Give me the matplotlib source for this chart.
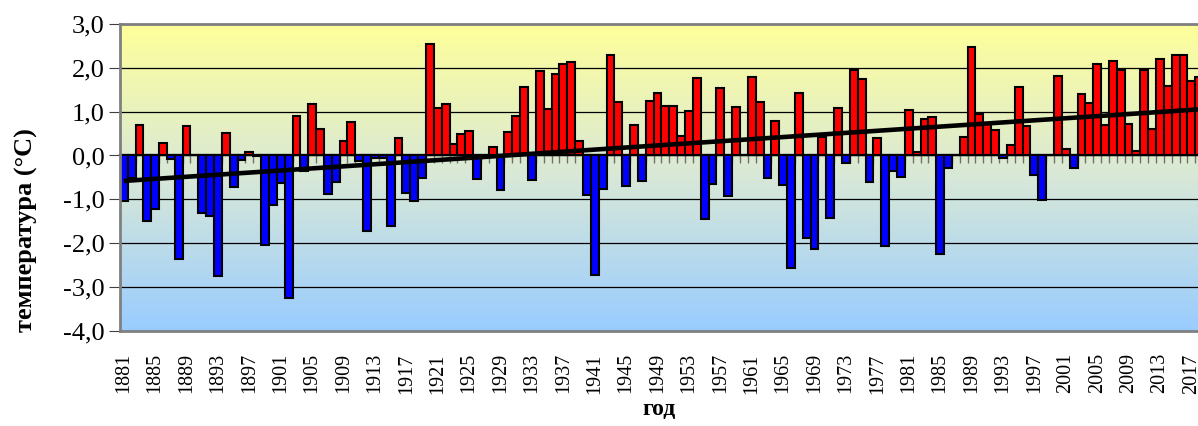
import numpy as np
import matplotlib.pyplot as plt
from matplotlib.colors import LinearSegmentedColormap

# temperature anomaly by year
years = np.arange(1881, 2019)
anomaly = [
    -1.03, -0.52, 0.69, -1.50, -1.23, 0.28, -0.09, -2.35, 0.67, 0.01,   # 1881-1890
    -1.30, -1.39, -2.74, 0.52, -0.71, -0.10, 0.09, -0.01, -2.03, -1.13,  # 1891-1900
    -0.62, -3.25, 0.89, -0.35, 1.17, 0.61, -0.87, -0.61, 0.33, 0.77,     # 1901-1910
    -0.12, -1.73, -0.05, -0.06, -1.60, 0.39, -0.86, -1.04, -0.52, 2.55,  # 1911-1920
    1.09, 1.18, 0.26, 0.48, 0.55, -0.53, 0.00, 0.20, -0.79, 0.54,        # 1921-1930
    0.89, 1.57, -0.55, 1.92, 1.05, 1.86, 2.08, 2.14, 0.33, -0.89,        # 1931-1940
    -2.73, -0.77, 2.30, 1.22, -0.70, 0.70, -0.57, 1.25, 1.42, 1.13,      # 1941-1950
    1.13, 0.45, 1.02, 1.76, -1.45, -0.64, 1.53, -0.92, 1.11, 0.00,       # 1951-1960
    1.78, 1.23, -0.51, 0.79, -0.67, -2.57, 1.43, -1.89, -2.13, 0.42,     # 1961-1970
    -1.42, 1.09, -0.18, 1.94, 1.75, -0.61, 0.39, -2.07, -0.35, -0.48,    # 1971-1980
    1.03, 0.08, 0.83, 0.88, -2.24, -0.29, 0.00, 0.43, 2.47, 0.95,        # 1981-1990
    0.71, 0.58, -0.06, 0.23, 1.56, 0.68, -0.45, -1.02, 0.00, 1.82,       # 1991-2000
    0.14, -0.28, 1.41, 1.19, 2.08, 0.69, 2.15, 1.94, 0.72, 0.11,         # 2001-2010
    1.94, 0.60, 2.20, 1.59, 2.30, 2.30, 1.70, 1.80,                      # 2011-2018
]
anomaly = np.array(anomaly)

ytick_vals = [3, 2, 1, 0, -1, -2, -3, -4]
ytick_labels = ['3,0', '2,0', '1,0', '0,0', '-1,0', '-2,0', '-3,0', '-4,0']
label_years = list(range(1881, 2018, 4))

plt.rcParams['font.family'] = ['Liberation Serif', 'DejaVu Serif']

fig = plt.figure(figsize=(11.98, 4.26), dpi=100)
ax = fig.add_axes([0.1, 0.223, 0.9, 0.721])

x0, x1 = 1880.5, 2017.85

# yellow -> light blue background
grad = np.linspace(0, 1, 256).reshape(-1, 1)
cmap = LinearSegmentedColormap.from_list('bg', ['#99CCFF', '#D8E8D8', '#FFFF99'])
ax.imshow(grad, cmap=cmap, extent=[x0, x1, -4, 3], origin='lower',
          aspect='auto', zorder=0, interpolation='bicubic')

colors = np.where(anomaly < 0, '#0000FF', '#FF0000')
ax.bar(years, anomaly, width=1.0, color=colors, edgecolor='black',
       linewidth=1.5, zorder=2)

# linear trend
coef = np.polyfit(years, anomaly, 1)
ends = years[[0, -1]]
ax.plot(ends, np.polyval(coef, ends), color='black', lw=3.3,
        solid_capstyle='butt', zorder=4)

ax.set_xlim(x0, x1)
ax.set_ylim(-4, 3)
ax.set_yticks(ytick_vals)
ax.set_yticklabels(ytick_labels, fontsize=19)
ax.yaxis.grid(True, color='black', lw=0.9)
ax.set_axisbelow(True)
ax.tick_params(axis='y', direction='out', length=8, color='#404040', pad=3)

ax.set_xticks(label_years)
ax.set_xticklabels([str(y) for y in label_years], rotation=90, fontsize=14.5)
ax.tick_params(axis='x', length=0, pad=16)

# year ticks hanging from the zero line
sec = ax.secondary_xaxis(0, transform=ax.transData)
sec.set_xticks(np.arange(1880.5, 2018, 1))
sec.tick_params(axis='x', direction='out', length=6, color='#707070',
                width=1, labelbottom=False, labeltop=False)
sec.spines['bottom'].set_color('black')
sec.spines['bottom'].set_linewidth(1.6)
sec.spines['top'].set_visible(False)
sec.set_zorder(1)

for side in ['left', 'top', 'bottom']:
    ax.spines[side].set_color('#808080')
    ax.spines[side].set_linewidth(2)
ax.spines['right'].set_visible(False)

ax.set_xlabel('год', fontsize=17, fontweight='bold', labelpad=4)
ax.set_ylabel('температура (°C)', fontsize=19, fontweight='bold')
ax.yaxis.set_label_coords(-0.076, 0.33)

fig.savefig('out.png', dpi=100)
